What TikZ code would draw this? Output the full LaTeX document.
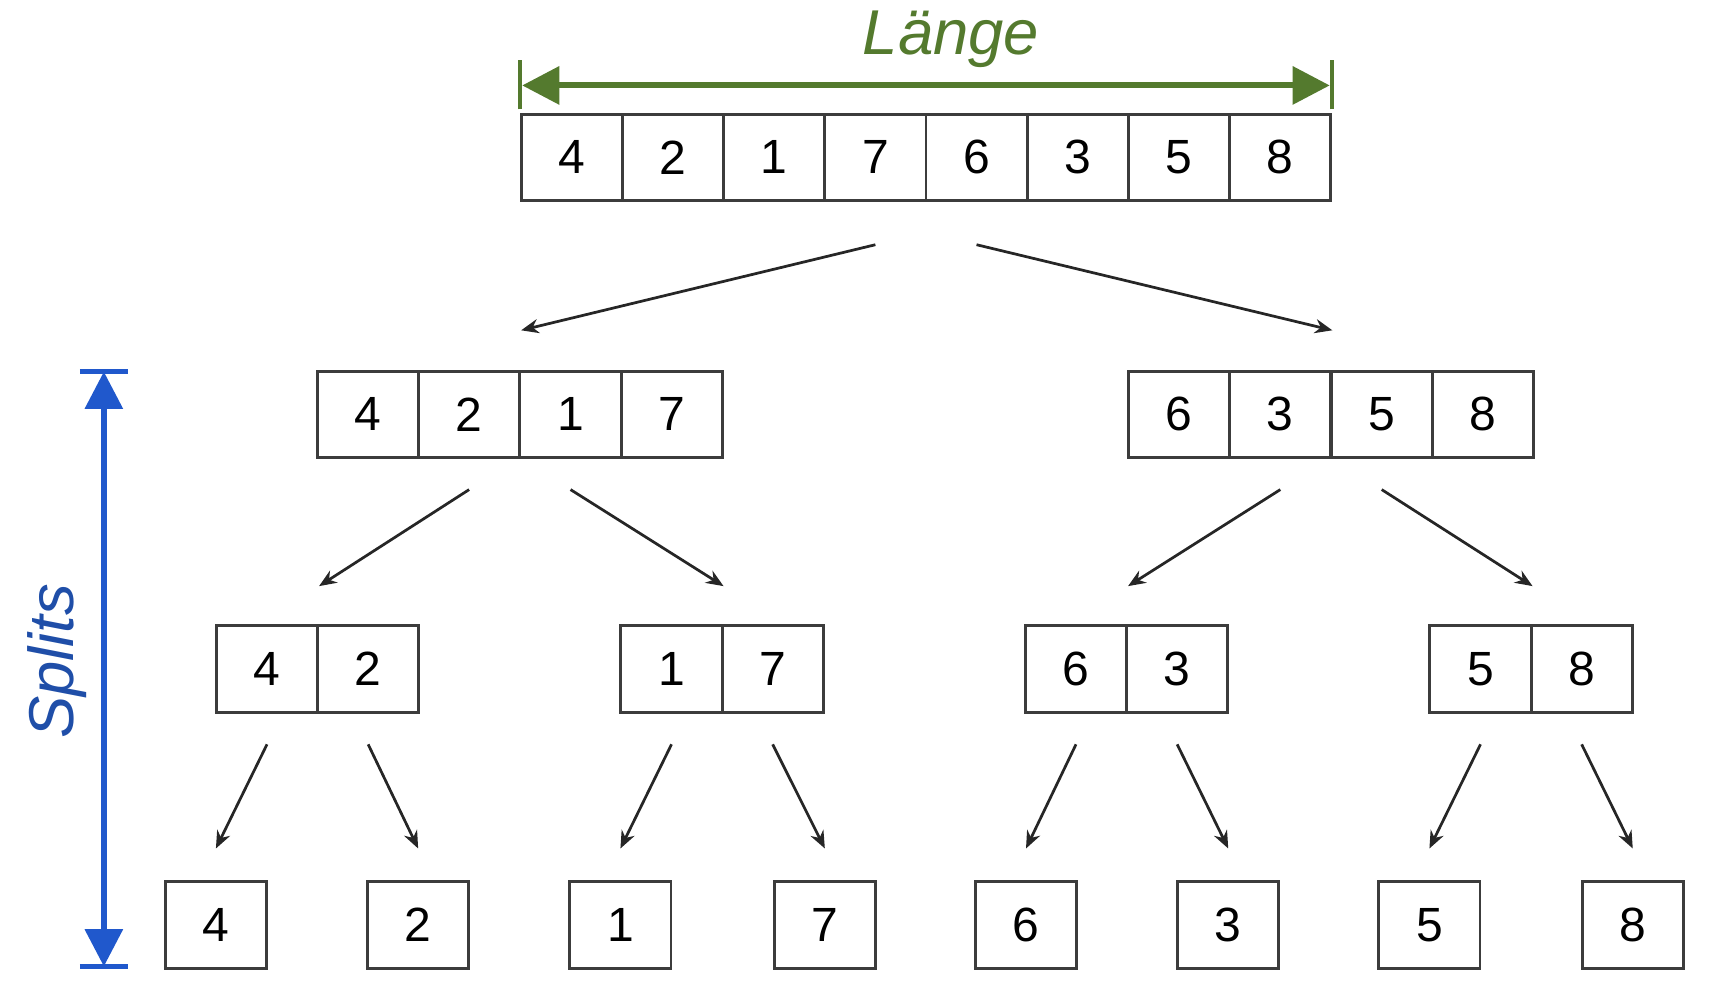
\documentclass[tikz,border=0pt]{standalone}
\usepackage{fontspec}
\setmainfont{Liberation Sans}
\usetikzlibrary{arrows.meta,calc}
\definecolor{laenge}{HTML}{547A2E}
\definecolor{splitblue}{HTML}{2058CC}
\definecolor{splittext}{HTML}{1F4EA8}
\definecolor{rand}{HTML}{3C3C3C}
\begin{document}
\begin{tikzpicture}[x=0.1mm, y=-0.1mm, >={Stealth[length=1.6mm,width=1.3mm]},
    cell/.style={draw=rand, line width=0.27mm, minimum width=9.25mm, minimum height=7.9mm, inner sep=0pt, font=\fontsize{12.5}{14}\selectfont},
    teil/.style={->, line width=0.25mm, draw=black!85},
    gross/.style={{Triangle[length=3.4mm,width=3.4mm]}-{Triangle[length=3.4mm,width=3.4mm]}}]
\useasboundingbox (0,0) rectangle (1566,915);

% Ausgangsfeld
\foreach \v [count=\i] in {4,2,1,7,6,3,5,8}
    \node[cell] (t\i) at ({477+92.5*(\i-.5)},144) {\v};

% erste Teilung
\foreach \v [count=\i] in {4,2,1,7}
    \node[cell] (l\i) at ({290+92.75*(\i-.5)},379) {\v};
\foreach \v [count=\i] in {6,3,5,8}
    \node[cell] (r\i) at ({1032+92.75*(\i-.5)},379) {\v};

% zweite Teilung
\foreach \n/\x/\p/\q in {a/198/4/2, b/568/1/7, c/938/6/3, d/1308/5/8}{
    \node[cell] (\n1) at (\x+46.25,612) {\p};
    \node[cell] (\n2) at (\x+138.75,612) {\q};
}

% einzelne Elemente
\foreach \v/\x [count=\i] in {4/151,2/336,1/521,7/708,6/892,3/1077,5/1261,8/1447}
    \node[cell] (s\i) at (\x+46.5,846) {\v};

\draw[teil] ($(t4.south)+(0,39)$) -- ($(l2.north east)+(0,-36)$);
\draw[teil] ($(t5.south)+(0,39)$) -- ($(r2.north east)+(0,-36)$);
\foreach \p/\k in {l2/a, l3/b, r2/c, r3/d}
    \draw[teil] ($(\p.south)+(0,28)$) -- ($(\k1.north east)+(0,-35)$);
\foreach \p/\k in {a1/s1, a2/s2, b1/s3, b2/s4, c1/s5, c2/s6, d1/s7, d2/s8}
    \draw[teil] ($(\p.south)+(0,28)$) -- ($(\k.north)+(0,-29)$);

% Laenge
\draw[laenge, line width=0.3mm] ($(t1.north west)+(0,-3)$) -- ++(0,-45);
\draw[laenge, line width=0.3mm] ($(t8.north east)+(0,-3)$) -- ++(0,-45);
\draw[laenge, line width=0.55mm, gross] ($(t1.north west)+(2,-25)$) -- ($(t8.north east)+(-2,-25)$);
\node[text=laenge, font=\fontsize{16.5}{18}\selectfont\itshape] (laengetext) at (870,36) {Länge};

% Splits
\coordinate (so) at (95,340);
\coordinate (su) at (95,884);
\draw[splitblue, line width=0.45mm] ($(so)+(-22,0)$) -- ($(so)+(22,0)$);
\draw[splitblue, line width=0.45mm] ($(su)+(-22,0)$) -- ($(su)+(22,0)$);
\draw[splitblue, line width=0.5mm, gross] (so) -- (su);
\node[rotate=90, text=splittext, font=\fontsize{16.5}{18}\selectfont\itshape] (splits) at (52,605) {Splits};

\end{tikzpicture}
\end{document}
